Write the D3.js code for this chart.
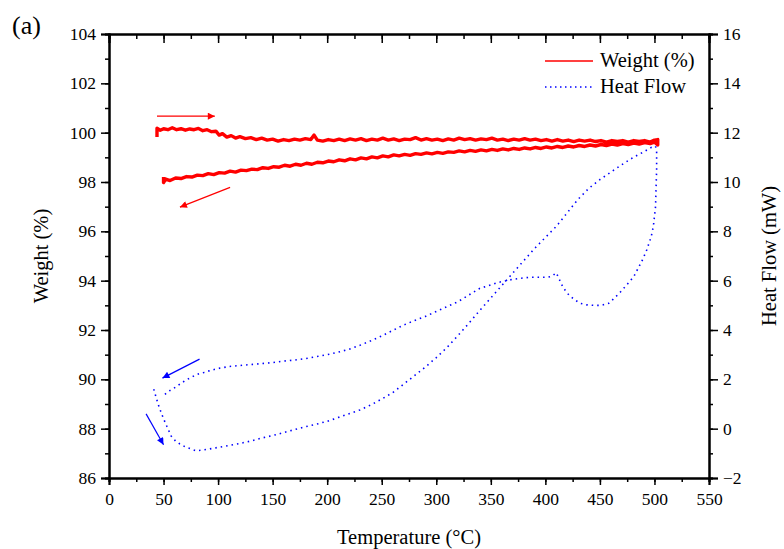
<!DOCTYPE html>
<html>
<head>
<meta charset="utf-8">
<script src="https://cdn.jsdelivr.net/npm/d3@7"></script>
<style>
  body { margin: 0; background: #fff; }
  svg text { font-family: "Liberation Serif", "Times New Roman", serif !important; fill: #000; }
</style>
</head>
<body>
<div id="chart"></div>
<script>
// weight (%) vs temperature, heating then cooling
var weightT = [44,44,47,50,54,58,62,66,70,74,78,82,86,90,94,98,101,104,108,112,116,120,125,130,135,140,145,150,155,160,165,170,175,180,185,188,191,196,201,206,211,216,221,226,231,236,241,246,251,256,261,266,271,276,281,286,291,296,301,306,311,316,321,326,331,336,341,346,351,356,361,366,371,376,381,386,391,396,401,406,411,416,421,426,431,436,441,446,451,456,461,466,471,476,481,486,491,496,500,503,
  503,500,496,491,486,481,476,471,466,461,456,451,446,441,436,431,426,421,416,411,406,401,396,391,386,381,376,371,366,361,356,351,346,341,336,331,326,321,316,311,306,301,296,291,286,281,276,271,266,261,256,251,246,241,236,231,226,221,216,211,206,201,196,191,186,181,176,171,166,161,156,151,146,141,136,131,126,121,116,111,106,101,96,91,86,81,76,71,66,61,56,52,50,50]
var weightV = [99.82,100.18,100.1,100.16,100.12,100.2,100.12,100.16,100.1,100.15,100.12,100.17,100.08,100.12,100.04,100.06,99.9,99.96,99.82,99.88,99.78,99.84,99.76,99.8,99.72,99.78,99.7,99.74,99.66,99.72,99.68,99.74,99.7,99.76,99.72,99.9,99.7,99.66,99.72,99.68,99.74,99.68,99.75,99.7,99.76,99.68,99.74,99.7,99.78,99.7,99.75,99.68,99.74,99.72,99.8,99.7,99.76,99.7,99.74,99.68,99.75,99.7,99.78,99.72,99.76,99.7,99.75,99.72,99.78,99.7,99.74,99.68,99.74,99.7,99.76,99.7,99.74,99.68,99.72,99.66,99.72,99.66,99.7,99.64,99.7,99.66,99.7,99.64,99.68,99.62,99.68,99.64,99.68,99.62,99.68,99.64,99.68,99.62,99.7,99.72,
  99.5,99.62,99.56,99.6,99.54,99.58,99.52,99.56,99.5,99.54,99.48,99.52,99.46,99.5,99.44,99.48,99.42,99.46,99.4,99.44,99.38,99.42,99.36,99.4,99.34,99.38,99.32,99.36,99.3,99.34,99.28,99.32,99.26,99.3,99.24,99.28,99.22,99.26,99.2,99.22,99.16,99.2,99.14,99.18,99.12,99.15,99.08,99.12,99.06,99.1,99.02,99.06,98.98,99.02,98.94,98.98,98.9,98.94,98.86,98.9,98.82,98.85,98.78,98.8,98.72,98.76,98.68,98.72,98.64,98.68,98.6,98.62,98.55,98.58,98.5,98.52,98.46,98.48,98.4,98.44,98.36,98.38,98.3,98.34,98.26,98.28,98.2,98.22,98.14,98.16,98.06,98.12,97.98,98.2]

// heat flow (mW) vs temperature, heating then cooling
var heatT = [41,43,45,47,50,53,57,61,65,70,75,80,85,90,100,110,120,130,140,150,160,170,180,190,200,210,220,230,240,250,260,270,280,290,300,310,320,330,340,350,360,370,380,390,400,410,420,430,440,450,460,470,480,490,497,501,
  502,502,501.5,501,499,497,493,489,485,481,475,469,463,458,451,444,438,432,426,420,416,413,410,406,402,394,386,378,371,364,356,348,340,330,320,310,300,290,280,270,260,250,240,230,220,210,200,190,180,170,160,150,140,130,120,110,100,93,87,82,77,71,66,62,58,54,51,50]
var heatV = [1.6,1.3,1.0,0.75,0.4,0.1,-0.3,-0.5,-0.62,-0.74,-0.82,-0.9,-0.87,-0.84,-0.76,-0.68,-0.6,-0.5,-0.38,-0.28,-0.16,-0.04,0.08,0.18,0.3,0.45,0.6,0.76,0.96,1.2,1.46,1.8,2.15,2.5,2.88,3.3,3.78,4.28,4.8,5.3,5.8,6.3,6.8,7.3,7.75,8.2,8.75,9.3,9.75,10.1,10.4,10.7,10.98,11.22,11.4,11.45,
  11.2,10.5,9.8,9.0,8.2,7.78,7.25,6.84,6.5,6.16,5.85,5.55,5.28,5.08,5.0,5.0,5.02,5.08,5.25,5.49,5.75,6.03,6.32,6.18,6.14,6.14,6.14,6.1,6.06,6.0,5.92,5.8,5.69,5.42,5.15,4.95,4.75,4.55,4.38,4.2,3.98,3.76,3.56,3.38,3.22,3.1,3.0,2.92,2.84,2.78,2.74,2.68,2.64,2.6,2.56,2.52,2.44,2.36,2.28,2.22,2.12,1.98,1.84,1.71,1.6,1.5,1.38,1.3]

// annotation arrows [x1, y1, x2, y2] in data units
var arrowsWeight = [[44,100.67,97,100.67],[111,97.78,65,96.98]]
var arrowsHeat = [[83,2.82,49,2.05],[34,0.6,50,-0.65]]

var xTicks = d3.range(0,551,50)
var yTicks = d3.range(86,105,2)
var y2Ticks = d3.range(-2,17,2)

var W = 784, H = 549
var m = {l:109, r:75, t:34, b:71}
var svg = d3.select('#chart').append('svg').attr('width',W).attr('height',H)

var x = d3.scaleLinear().domain([0,550]).range([m.l, W-m.r])
var y = d3.scaleLinear().domain([86,104]).range([H-m.b, m.t])
var y2 = d3.scaleLinear().domain([-2,16]).range([H-m.b, m.t])

var defs = svg.append('defs')
function marker(id,color){
  defs.append('marker').attr('id',id)
    .attr('viewBox','0 0 10 10').attr('refX',10).attr('refY',5)
    .attr('markerWidth',10).attr('markerHeight',7).attr('markerUnits','userSpaceOnUse')
    .attr('orient','auto')
    .append('path').attr('d','M0,0L10,5L0,10z').attr('fill',color)
}
marker('ar','#ff0000')
marker('ab','#0000ff')

// axes
var xMinor = d3.range(0,551,25), yMinor = d3.range(86,105,1), y2Minor = d3.range(-2,17,1)

svg.append('g').attr('transform',`translate(0,${H-m.b})`)
  .call(d3.axisBottom(x).tickValues(xMinor).tickSize(4).tickFormat(''))
svg.append('g').attr('transform',`translate(0,${H-m.b})`)
  .call(d3.axisBottom(x).tickValues(xTicks).tickSize(7).tickPadding(8))

svg.append('g').attr('transform',`translate(0,${m.t})`)
  .call(d3.axisBottom(x).tickValues(xMinor).tickSizeOuter(0).tickSize(5).tickFormat(''))
svg.append('g').attr('transform',`translate(0,${m.t})`)
  .call(d3.axisBottom(x).tickValues(xTicks).tickSizeOuter(0).tickSize(9).tickFormat(''))

svg.append('g').attr('transform',`translate(${m.l},0)`)
  .call(d3.axisLeft(y).tickValues(yMinor).tickSize(4).tickFormat(''))
svg.append('g').attr('transform',`translate(${m.l},0)`)
  .call(d3.axisLeft(y).tickValues(yTicks).tickSize(8).tickPadding(5))

svg.append('g').attr('transform',`translate(${W-m.r},0)`)
  .call(d3.axisRight(y2).tickValues(y2Minor).tickSize(4).tickFormat(''))
svg.append('g').attr('transform',`translate(${W-m.r},0)`)
  .call(d3.axisRight(y2).tickValues(y2Ticks).tickSize(9).tickPadding(5))

svg.selectAll('g').attr('font-family',null)
svg.selectAll('.domain').attr('stroke','#000').attr('stroke-width',2)
svg.selectAll('.tick line').attr('stroke','#000').attr('stroke-width',1.5)
svg.selectAll('.tick text').style('font-size','17.5px').attr('fill','#000')

// weight line
var wData = weightT.map((t,i)=>[t,weightV[i]])
svg.append('path').datum(wData)
  .attr('d',d3.line().x(d=>x(d[0])).y(d=>y(d[1])))
  .attr('fill','none').attr('stroke','#ff0000').attr('stroke-width',3.4).attr('stroke-linejoin','round')

// heat flow line
var hData = heatT.map((t,i)=>[t,heatV[i]])
svg.append('path').datum(hData)
  .attr('d',d3.line().x(d=>x(d[0])).y(d=>y2(d[1])))
  .attr('fill','none').attr('stroke','#0000ff').attr('stroke-width',1.6)
  .attr('stroke-dasharray','1.5,4')

// arrows
arrowsWeight.forEach(a=>{
  svg.append('line').attr('x1',x(a[0])).attr('y1',y(a[1])).attr('x2',x(a[2])).attr('y2',y(a[3]))
    .attr('stroke','#ff0000').attr('stroke-width',1.2).attr('marker-end','url(#ar)')
})
arrowsHeat.forEach(a=>{
  svg.append('line').attr('x1',x(a[0])).attr('y1',y2(a[1])).attr('x2',x(a[2])).attr('y2',y2(a[3]))
    .attr('stroke','#0000ff').attr('stroke-width',1.2).attr('marker-end','url(#ab)')
})

// legend
var lg = svg.append('g')
lg.append('line').attr('x1',545).attr('x2',593).attr('y1',61).attr('y2',61).attr('stroke','#ff0000').attr('stroke-width',1.5)
lg.append('text').attr('x',600).attr('y',67).style('font-size','20.5px').text('Weight (%)')
lg.append('line').attr('x1',545).attr('x2',593).attr('y1',87).attr('y2',87).attr('stroke','#0000ff').attr('stroke-width',1.5).attr('stroke-dasharray','1.5,3.5')
lg.append('text').attr('x',600).attr('y',93).style('font-size','20.5px').text('Heat Flow')

// titles
svg.append('text').attr('x',(m.l+W-m.r)/2).attr('y',544).attr('text-anchor','middle').style('font-size','20.5px').text('Temperature (°C)')
svg.append('text').attr('transform',`translate(48,${(m.t+H-m.b)/2}) rotate(-90)`).attr('text-anchor','middle').style('font-size','20.5px').text('Weight (%)')
svg.append('text').attr('transform',`translate(776,${(m.t+H-m.b)/2}) rotate(-90)`).attr('text-anchor','middle').style('font-size','20.5px').text('Heat Flow (mW)')
svg.append('text').attr('x',12).attr('y',34).style('font-size','26px').text('(a)')
</script>
</body>
</html>
